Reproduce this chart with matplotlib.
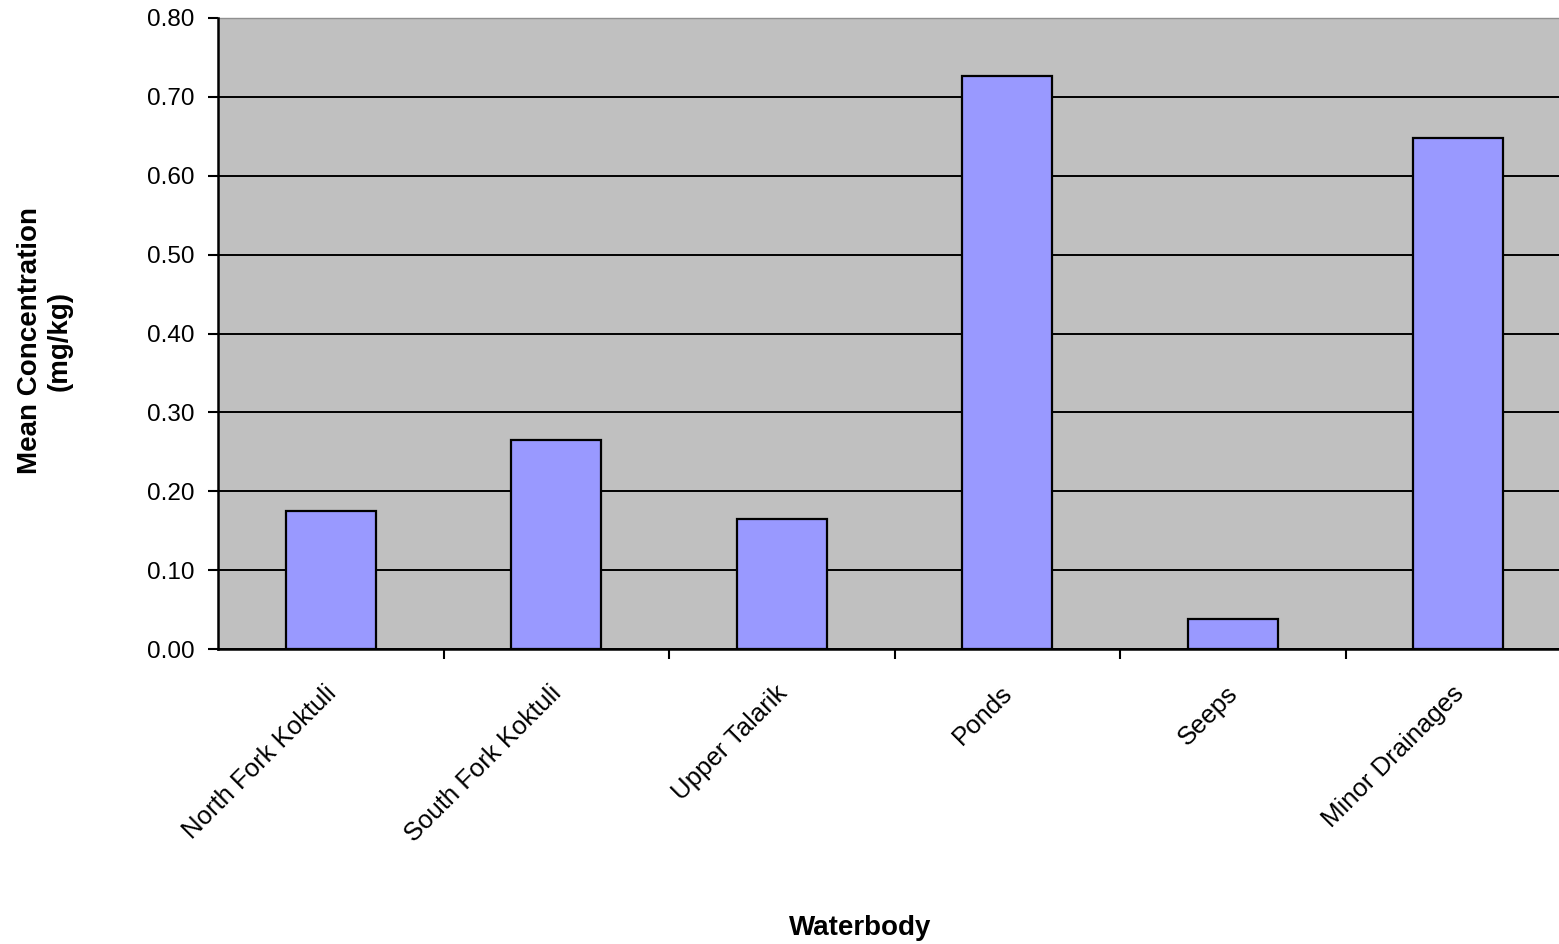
import numpy as np
import matplotlib
matplotlib.use("Agg")
import matplotlib.pyplot as plt
from matplotlib.ticker import MultipleLocator, FormatStrFormatter
from matplotlib.transforms import ScaledTranslation

# ------------------------------------------ Data ------------------------------------------ #

waterbodies = ["North Fork Koktuli", "South Fork Koktuli", "Upper Talarik",
               "Ponds", "Seeps", "Minor Drainages"]
mean_conc = [0.175, 0.265, 0.165, 0.727, 0.038, 0.648]   # mg/kg

# ------------------------------------------ Painting ------------------------------------------ #

plt.rcParams["font.family"] = ["Liberation Sans", "DejaVu Sans"]

W, H = 1559, 944
fig = plt.figure(figsize=(W / 100, H / 100), dpi=100)
fig.patch.set_facecolor("white")

# plot area runs a little past the right edge of the figure
ax = fig.add_axes([218 / W, (H - 649) / H, 1353 / W, 631 / H])
ax.set_facecolor("#C0C0C0")

x = np.arange(len(waterbodies))
ax.bar(x, mean_conc, width=0.4, color="#9999FF", edgecolor="black",
       linewidth=1.6, zorder=3)

ax.set_xlim(-0.5, len(waterbodies) - 0.5)
ax.set_ylim(0, 0.80)
ax.yaxis.set_major_locator(MultipleLocator(0.10))
ax.yaxis.set_major_formatter(FormatStrFormatter("%.2f"))
ax.grid(axis="y", color="black", linewidth=1.4, zorder=1)
ax.set_axisbelow(True)

# category labels at centres, tick marks on the category boundaries
ax.set_xticks(x)
ax.set_xticklabels(waterbodies, rotation=45, ha="right", va="top",
                   rotation_mode="anchor", fontsize=18.5)
ax.set_xticks(np.arange(len(waterbodies)) + 0.5, minor=True)
ax.tick_params(axis="x", which="major", length=0, pad=23)
ax.tick_params(axis="x", which="minor", length=7, width=1.5, direction="out")
ax.tick_params(axis="y", length=7, width=1.5, direction="out", pad=10,
               labelsize=17.5)

# nudge the rotated labels a little to the left
shift = ScaledTranslation(-7 / 100, 0, fig.dpi_scale_trans)
for lbl in ax.get_xticklabels():
    lbl.set_transform(lbl.get_transform() + shift)

for side in ("left", "bottom"):
    ax.spines[side].set_linewidth(1.8)
    ax.spines[side].set_zorder(4)
ax.spines["top"].set_color("#909090")
ax.spines["top"].set_linewidth(1.0)
ax.spines["right"].set_visible(False)

fig.text(860 / W, 1 - 928 / H, "Waterbody", ha="center", va="center",
         fontsize=20, fontweight="bold")
fig.text(45 / W, 1 - 341 / H, "Mean Concentration\n(mg/kg)", ha="center",
         va="center", rotation=90, fontsize=20, fontweight="bold",
         linespacing=1.15, multialignment="center")

fig.savefig("out.png", dpi=100)
